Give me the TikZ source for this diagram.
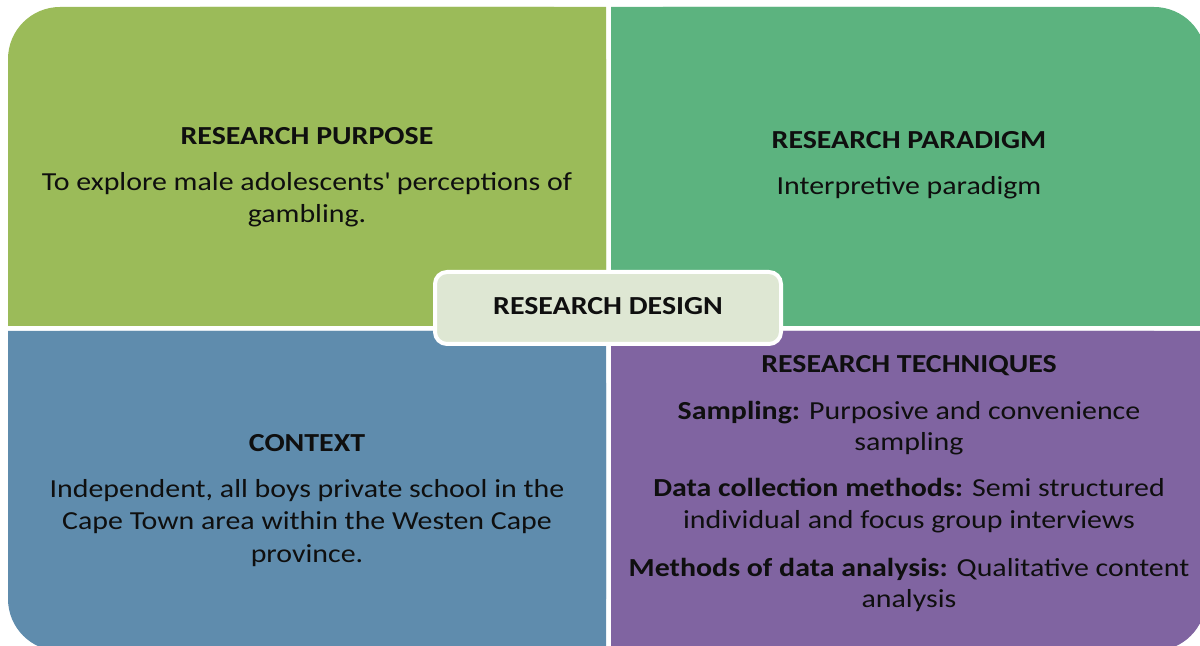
\documentclass[tikz,border=0pt]{standalone}
\usepackage{fontspec}
\setmainfont{Carlito}[FakeStretch=1.15]
\definecolor{purposegreen}{RGB}{155,187,89}
\definecolor{paradigmgreen}{RGB}{92,179,127}
\definecolor{contextblue}{RGB}{95,140,173}
\definecolor{techpurple}{RGB}{128,100,161}
\definecolor{designfill}{RGB}{222,231,211}
\definecolor{ink}{RGB}{15,15,15}
\begin{document}
\begin{tikzpicture}[x=0.5pt,y=-0.5pt,
  txt/.style={inner sep=0pt, anchor=base, text=ink, font=\fontsize{13pt}{16pt}\selectfont},
  ttl/.style={txt, font=\fontsize{13pt}{16pt}\selectfont\bfseries},
  designbox/.style={draw=white, line width=2pt, fill=designfill, rounded corners=6pt}]
\useasboundingbox (0,0) rectangle (1200,646);
\clip (0,0) rectangle (1200,646);

% four quadrants, each rounded only at its outer corner
\fill[purposegreen, rounded corners=26pt] (8,7) rectangle (606,326);
\fill[purposegreen] (200,7) rectangle (606,326) (8,150) rectangle (606,326);

\fill[paradigmgreen, rounded corners=26pt] (611,7) rectangle (1206,326);
\fill[paradigmgreen] (611,7) rectangle (900,326) (611,150) rectangle (1206,326);

\fill[contextblue, rounded corners=26pt] (8,331) rectangle (606,651);
\fill[contextblue] (200,331) rectangle (606,651) (8,331) rectangle (606,500);

\fill[techpurple, rounded corners=26pt] (611,331) rectangle (1206,651);
\fill[techpurple] (611,331) rectangle (900,651) (611,331) rectangle (1206,500);

% centre label
\node[designbox, minimum width=173pt, minimum height=36pt] (design) at (608,308) {};
\node[ttl] (designtxt) at (608,315) {RESEARCH DESIGN};

% research purpose
\node[ttl] (purpose) at (307,145) {RESEARCH PURPOSE};
\node[txt] (purpose1) at (307,191) {To explore male adolescents\textquotesingle{} perceptions of};
\node[txt] (purpose2) at (307,223) {gambling.};

% research paradigm
\node[ttl] (paradigm) at (909,149) {RESEARCH PARADIGM};
\node[txt] (paradigm1) at (909,195) {Interpretive paradigm};

% context
\node[ttl] (context) at (307,452) {CONTEXT};
\node[txt] (context1) at (307,498) {Independent, all boys private school in the};
\node[txt] (context2) at (307,530) {Cape Town area within the Westen Cape};
\node[txt] (context3) at (307,562) {province.};

% research techniques
\node[ttl] (tech) at (909,373) {RESEARCH TECHNIQUES};
\node[txt] (tech1) at (909,420) {\textbf{Sampling:} Purposive and convenience};
\node[txt] (tech2) at (909,451) {sampling};
\node[txt] (tech3) at (909,497) {\textbf{Data collection methods:} Semi structured};
\node[txt] (tech4) at (909,529) {individual and focus group interviews};
\node[txt] (tech5) at (909,576) {\textbf{Methods of data analysis:} Qualitative content};
\node[txt] (tech6) at (909,607) {analysis};
\end{tikzpicture}
\end{document}
